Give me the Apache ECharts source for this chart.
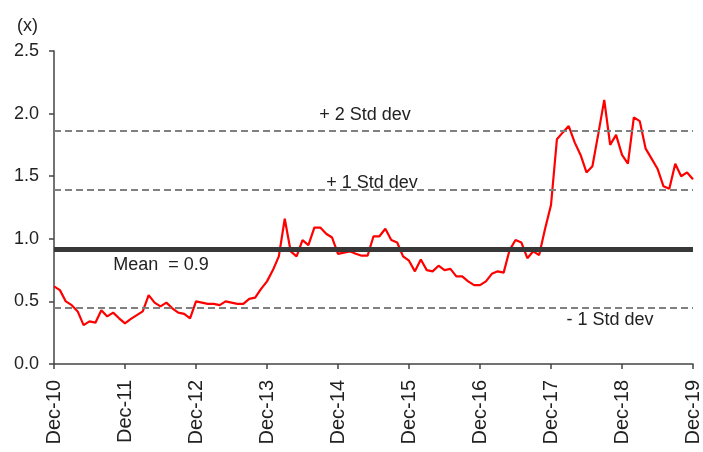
<!DOCTYPE html>
<html>
<head>
<meta charset="utf-8">
<script src="https://cdn.jsdelivr.net/npm/echarts@6/dist/echarts.min.js"></script>
<style>
html,body{margin:0;padding:0;background:#fff;}
#c{width:703px;height:452px;}
</style>
</head>
<body>
<div id="c"></div>
<script>
// Monthly categories Dec-10 .. Dec-19
var monthNames = ['Jan','Feb','Mar','Apr','May','Jun','Jul','Aug','Sep','Oct','Nov','Dec'];
var categories = [];
for (var k = 0; k < 109; k++) {
  var m = (11 + k) % 12;
  var y = 10 + Math.floor((11 + k) / 12);
  categories.push(monthNames[m] + '-' + y);
}

// Multiple (x)
var multiple = [
  0.62, 0.59, 0.50, 0.47, 0.42, 0.31, 0.34, 0.33, 0.43, 0.38, 0.41, 0.365,
  0.325, 0.36, 0.39, 0.42, 0.55, 0.49, 0.46, 0.49, 0.445, 0.41, 0.40, 0.365,
  0.50, 0.49, 0.48, 0.48, 0.47, 0.50, 0.49, 0.48, 0.48, 0.52, 0.53, 0.60,
  0.66, 0.75, 0.86, 1.16, 0.90, 0.86, 0.99, 0.95, 1.09, 1.09, 1.04, 1.01,
  0.88, 0.89, 0.90, 0.88, 0.865, 0.865, 1.02, 1.02, 1.08, 0.99, 0.97, 0.86,
  0.825, 0.74, 0.835, 0.75, 0.74, 0.785, 0.75, 0.76, 0.70, 0.70, 0.66, 0.63,
  0.63, 0.66, 0.72, 0.74, 0.73, 0.91, 0.99, 0.97, 0.845, 0.90, 0.87, 1.08,
  1.27, 1.795, 1.85, 1.90, 1.77, 1.67, 1.53, 1.58, 1.84, 2.11, 1.75, 1.83,
  1.67, 1.60, 1.97, 1.94, 1.72, 1.64, 1.56, 1.42, 1.40, 1.60, 1.50, 1.53,
  1.475
];

// Reference levels
var meanValue = 0.92;
var plus2Std = 1.86;
var plus1Std = 1.39;
var minus1Std = 0.45;

var refLabels = {
  mean: 'Mean  = 0.9',
  plus2: '+ 2 Std dev',
  plus1: '+ 1 Std dev',
  minus1: '- 1 Std dev'
};

var FONT = 'Liberation Sans, Arial, sans-serif';
var TXT = '#222';

var chart = echarts.init(document.getElementById('c'), null, {renderer: 'canvas'});

function dashed(val, text, pos, dist) {
  return {
    yAxis: val,
    lineStyle: {color: '#808080', width: 2, type: [7, 4]},
    label: {
      show: true, formatter: text, position: pos, distance: dist,
      align: 'center', color: TXT, fontSize: 18, fontFamily: FONT
    }
  };
}

var option = {
  animation: false,
  grid: {left: 54, right: 9, top: 51, bottom: 88, containLabel: false},
  xAxis: {
    type: 'category',
    data: categories,
    boundaryGap: false,
    axisLine: {lineStyle: {color: '#444', width: 1.5}},
    axisTick: {interval: 11, length: 5, lineStyle: {color: '#444', width: 1.5}},
    axisLabel: {
      interval: 11, rotate: 90, margin: 16,
      color: TXT, fontSize: 20, fontFamily: FONT
    },
    splitLine: {show: false}
  },
  yAxis: {
    type: 'value',
    min: 0, max: 2.5, interval: 0.5,
    name: '(x)',
    nameLocation: 'end',
    nameGap: 16,
    nameTextStyle: {color: TXT, fontSize: 18, fontFamily: FONT, align: 'right', padding: [0, 16, 0, 0]},
    axisLine: {show: true, lineStyle: {color: '#444', width: 1.5}},
    axisTick: {show: true, length: 5, lineStyle: {color: '#444', width: 1.5}},
    axisLabel: {
      margin: 15, color: TXT, fontSize: 18, fontFamily: FONT,
      formatter: function (v) { return v.toFixed(1); }
    },
    splitLine: {show: false}
  },
  series: [{
    type: 'line',
    data: multiple,
    showSymbol: false,
    symbol: 'none',
    lineStyle: {color: '#ff0000', width: 2.2},
    itemStyle: {color: '#ff0000'},
    z: 2,
    markLine: {
      silent: true,
      symbol: ['none', 'none'],
      precision: 3,
      z: 5,
      data: [
        dashed(plus2Std, refLabels.plus2, 'insideStartTop', [311, 7]),
        dashed(plus1Std, refLabels.plus1, 'insideStartTop', [318, -2]),
        dashed(minus1Std, refLabels.minus1, 'insideStartBottom', [556, 3]),
        {
          yAxis: meanValue,
          lineStyle: {color: '#383838', width: 5, type: 'solid'},
          label: {
            show: true, formatter: refLabels.mean, position: 'insideStartBottom',
            distance: [107, 7], align: 'center', color: TXT, fontSize: 18, fontFamily: FONT
          }
        }
      ]
    }
  }]
};

chart.setOption(option);
</script>
</body>
</html>
